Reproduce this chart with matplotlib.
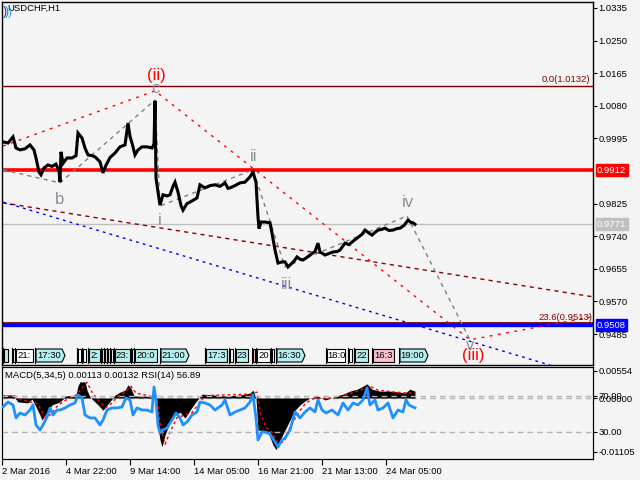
import matplotlib
matplotlib.use("Agg")
import matplotlib.pyplot as plt
from matplotlib.transforms import blended_transform_factory
from matplotlib.patches import Polygon

plt.rcParams['font.family'] = ['Liberation Sans', 'DejaVu Sans']

# ---------------- data ----------------
bar_x = [3, 8, 13, 16, 20, 25, 30, 34, 36, 39, 41, 44, 48, 52, 56, 59, 60, 61, 63, 67, 72, 76, 78,
         82, 85, 88, 92, 95, 100, 103, 106, 110, 115, 120, 125, 128, 130, 132, 135, 138, 142, 147,
         152, 154, 155, 156, 158, 160, 163, 167, 170, 173, 175, 178, 181, 183, 187, 190, 194, 197,
         200, 205, 210, 215, 220, 225, 228, 230, 235, 240, 245, 250, 253, 256, 258, 259, 261, 265,
         270, 272, 275, 278, 282, 285, 288, 290, 294, 297, 300, 303, 307, 310, 315, 318, 320, 325,
         329, 333, 337, 340, 345, 349, 352, 357, 362, 365, 369, 372, 375, 378, 382, 385, 389, 393,
         397, 400, 404, 408, 411, 413, 415]
close = [0.9986, 0.9983, 0.9999, 0.9970, 0.9965, 0.9968, 0.9978, 0.9965, 0.9944, 0.9907, 0.9900,
         0.9918, 0.9926, 0.9922, 0.9928, 0.9910, 0.9881, 0.9960, 0.9930, 0.9944, 0.9944, 0.9950,
         1.0009, 0.9996, 0.9970, 0.9952, 0.9950, 0.9947, 0.9934, 0.9905, 0.9925, 0.9945, 0.9957,
         0.9973, 0.9978, 1.0035, 1.0000, 0.9983, 0.9952, 0.9965, 0.9973, 0.9973, 0.9970, 0.9980,
         1.0093, 0.9892, 0.9855, 0.9821, 0.9848, 0.9845, 0.9848, 0.9870, 0.9881, 0.9855, 0.9820,
         0.9808, 0.9825, 0.9829, 0.9835, 0.9840, 0.9874, 0.9866, 0.9872, 0.9874, 0.9870, 0.9879,
         0.9865, 0.9866, 0.9872, 0.9879, 0.9881, 0.9895, 0.9907, 0.9881, 0.9790, 0.9760, 0.9777,
         0.9777, 0.9775, 0.9748, 0.9704, 0.9670, 0.9673, 0.9673, 0.9660, 0.9665, 0.9675, 0.9686,
         0.9680, 0.9678, 0.9685, 0.9691, 0.9700, 0.9722, 0.9699, 0.9691, 0.9695, 0.9699, 0.9700,
         0.9704, 0.9722, 0.9718, 0.9725, 0.9735, 0.9745, 0.9756, 0.9748, 0.9743, 0.9750, 0.9756,
         0.9758, 0.9761, 0.9755, 0.9756, 0.9760, 0.9761, 0.9768, 0.9782, 0.9776, 0.9775, 0.9771]

hist_x = [3, 14, 15, 18, 28, 32, 35, 40, 42, 47, 52, 60, 63, 65, 76, 78, 80, 85, 87, 90, 93, 98,
          103, 108, 112, 115, 120, 125, 128, 131, 134, 145, 152, 155, 157, 160, 162, 165, 170, 175,
          180, 185, 190, 195, 199, 202, 215, 225, 240, 250, 253, 256, 258, 263, 268, 273, 276, 280,
          285, 290, 295, 300, 305, 310, 318, 325, 335, 343, 350, 357, 362, 367, 372, 380, 390, 400,
          405, 410, 415]
macd_hist = [0.0006, 0.0006, 0.0, -0.0008, -0.0010, -0.0002, -0.0014, -0.0035, -0.0045, -0.0029,
             -0.0014, -0.0008, -0.0002, 0.0004, 0.0006, 0.0025, 0.0033, 0.0033, 0.0016, 0.0002,
             -0.0004, -0.0014, -0.0025, -0.0012, -0.0002, 0.0006, 0.0012, 0.0016, 0.0027, 0.0020,
             0.0004, 0.0004, 0.0002, 0.0, -0.0045, -0.0086, -0.0100, -0.0076, -0.0049, -0.0035,
             -0.0029, -0.0041, -0.0025, -0.0010, 0.0, 0.0008, 0.0006, 0.0004, 0.0006, 0.0010,
             0.0016, 0.0, -0.0066, -0.0066, -0.0070, -0.0096, -0.0106, -0.0086, -0.0066, -0.0045,
             -0.0025, -0.0014, -0.0006, 0.0, 0.0004, -0.0004, 0.0002, 0.0008, 0.0014, 0.0018,
             0.0023, 0.0029, 0.0018, 0.0014, 0.0014, 0.0012, 0.0010, 0.0018, 0.0014]

sig_x = [3, 15, 20, 30, 38, 45, 50, 58, 66, 75, 82, 87, 92, 98, 106, 112, 118, 125, 131, 136, 150,
         157, 160, 165, 170, 177, 185, 192, 200, 206, 250, 257, 260, 266, 272, 278, 284, 290, 297,
         305, 312, 330, 345, 360, 370, 378, 395, 410, 415]
macd_signal = [0.0004, 0.0004, -0.0002, -0.0008, -0.0012, -0.0040, -0.0035, -0.0015, -0.0004,
               0.0004, 0.0020, 0.0032, 0.0012, -0.0004, -0.0020, -0.0010, 0.0004, 0.0012, 0.0024,
               0.0010, 0.0004, 0.0000, -0.0050, -0.0095, -0.0070, -0.0040, -0.0035, -0.0030,
               -0.0008, 0.0005, 0.0008, 0.0012, -0.0030, -0.0060, -0.0070, -0.0092, -0.0090,
               -0.0060, -0.0035, -0.0012, -0.0002, 0.0000, 0.0006, 0.0016, 0.0024, 0.0016, 0.0012,
               0.0010, 0.0013]

rsi_x = [3, 8, 13, 16, 20, 25, 30, 33, 36, 40, 43, 47, 50, 53, 57, 60, 65, 70, 75, 78, 82, 85, 90,
         95, 100, 103, 107, 112, 117, 122, 126, 130, 133, 137, 142, 147, 152, 154, 156, 158, 160,
         163, 167, 172, 176, 180, 183, 187, 192, 197, 200, 205, 210, 215, 222, 225, 230, 235, 240,
         245, 250, 253, 256, 258, 262, 265, 270, 275, 278, 282, 285, 290, 295, 300, 305, 310, 315,
         318, 322, 326, 332, 338, 343, 348, 353, 358, 363, 367, 370, 375, 378, 383, 388, 393, 398,
         403, 406, 409, 413, 415]
rsi = [57.8, 63.3, 60.0, 45.6, 51.1, 48.9, 54.4, 60.0, 37.8, 32.2, 37.8, 46.7, 56.7, 48.9, 54.4,
       54.4, 56.7, 60.0, 62.2, 71.1, 67.8, 48.9, 45.6, 45.6, 37.8, 43.3, 54.4, 56.7, 56.7, 57.8,
       67.8, 65.6, 48.9, 56.7, 54.4, 54.4, 52.2, 80.0, 65.6, 37.8, 28.9, 32.2, 34.4, 43.3, 51.1,
       45.6, 37.8, 41.1, 48.9, 52.2, 63.3, 62.2, 60.0, 54.4, 60.0, 65.6, 48.9, 52.2, 54.4, 56.7,
       63.3, 71.1, 45.6, 21.1, 30.0, 30.0, 27.8, 18.9, 13.3, 21.1, 23.3, 32.2, 52.2, 45.6, 52.2,
       56.7, 52.2, 65.6, 54.4, 51.1, 54.4, 48.9, 62.2, 54.4, 62.2, 60.0, 65.6, 78.9, 60.0, 65.6,
       54.4, 56.7, 62.2, 45.6, 54.4, 52.2, 65.6, 60.0, 57.8, 56.9]

# wave markup (bar, price)
wave_x = [3, 60, 155, 160, 253, 285, 407, 470]
wave_p = [0.9913, 0.9879, 1.0095, 0.9819, 0.9913, 0.9660, 0.9793, 0.9470]
red_x = [3, 155, 470, 590]
red_p = [0.9975, 1.0119, 0.9470, 0.9529]
chan_x = [3, 593]
chan_p = [0.9827, 0.9582]
blue_x = [3, 550]
blue_p = [0.9829, 0.9404]

fib0, fib236 = 1.0132, 0.9513
level_red, level_cur, level_blue = 0.9912, 0.9771, 0.9508

labels_txt = ["b", "c", "i", "ii", "iii", "iv", "v"]
labels_x = [60, 155, 160, 254, 287, 408, 470]
labels_p = [0.9837, 1.0126, 0.9780, 0.9949, 0.9615, 0.9827, 0.9454]
big_txt = ["(ii)", "(iii)"]
big_x = [156, 473]
big_p = [1.0158, 0.9428]

price_ticks = [1.0335, 1.0250, 1.0165, 1.0080, 0.9995, 0.9825, 0.9740, 0.9655, 0.9570, 0.9485]
date_pos = [2, 66, 130, 194, 258, 322, 386]
date_labels = ["2 Mar 2016", "4 Mar 22:00", "9 Mar 14:00", "14 Mar 05:00", "16 Mar 21:00",
               "21 Mar 13:00", "24 Mar 05:00"]

# time boxes (start bar, end bar, text, colour key, arrow)
box_x0 = [4, 13, 16, 36, 78, 83, 89, 102, 105, 108, 111, 115, 132, 135, 161, 206, 230, 236, 253,
          257, 272, 277, 327, 349, 355, 373, 400]
box_x1 = [8, 15, 33, 62, 81, 86, 100, 104, 107, 110, 113, 130, 134, 157, 186, 227, 233, 248, 255,
          270, 274, 302, 345, 352, 368, 394, 425]
box_txt = ["", "", "21:", "17:30", "", "", "2:", "", "", "", "", "23:", "", "20:0", "21:00",
           "17:3", "", "23", "", "20", "", "16:30", "18:0", "", "22", "16:3", "19:00"]
box_col = ["c", "w", "w", "c", "w", "w", "c", "w", "w", "w", "w", "c", "w", "c", "c",
           "c", "w", "c", "p", "w", "w", "c", "w", "w", "c", "p", "c"]
box_arrow = [0, 0, 0, 1, 0, 0, 0, 0, 0, 0, 0, 0, 0, 0, 1, 0, 0, 0, 0, 0, 0, 1, 0, 0, 0, 0, 1]

# ---------------- figure ----------------
BG = '#f4f4f4'
fig = plt.figure(figsize=(6.4, 4.8), dpi=100, facecolor=BG)
ax = fig.add_axes([2/640, 1-365/480, 591/640, 363/480], facecolor=BG)
axm = fig.add_axes([2/640, 1-459/480, 591/640, 92/480], facecolor=BG)
axr = axm.twinx()

FS = 6.8
ax.set_xlim(2, 593)
ax.set_ylim(0.94043, 1.03506)
ax.set_xticks([])
ax.yaxis.tick_right()
ax.set_yticks(price_ticks)
ax.set_yticklabels([f"{v:.4f}" for v in price_ticks], fontsize=FS)
ax.tick_params(axis='y', length=3, pad=1, width=0.8)
for s in ax.spines.values():
    s.set_linewidth(1)

# horizontal levels
ax.axhline(fib0, color='#800000', lw=1, zorder=2)
ax.axhline(level_red, color='red', lw=2.6, zorder=2)
ax.axhline(level_cur, color='#c0c0c0', lw=1, zorder=1)
ax.axhline(fib236, color='#800000', lw=2, zorder=2)
ax.axhline(level_blue, color='#0000ff', lw=2.4, zorder=2)

# channel / trend lines
ax.plot(chan_x, chan_p, color='#8b0000', lw=1, ls=(0, (3, 3)), zorder=3)
ax.plot(blue_x, blue_p, color='#0000ff', lw=1, ls=(0, (2, 3)), zorder=3)
ax.plot(red_x, red_p, color='#ff0000', lw=1, ls=(0, (2, 4)), zorder=3)
ax.plot(wave_x, wave_p, color='#808080', lw=1, ls=(0, (3, 3)), zorder=3)

# price
ax.plot(bar_x, close, color='black', lw=2.2, zorder=4, solid_joinstyle='miter')

# labels
trans_r = blended_transform_factory(ax.transAxes, ax.transData)
ax.text(590, fib0 + 0.0004, "0.0(1.0132)", color='#800000', fontsize=FS, ha='right', va='bottom')
ax.text(592, fib236 + 0.0004, "23.6(0.9513)", color='#800000', fontsize=FS, ha='right', va='bottom')
for t, x, p in zip(labels_txt, labels_x, labels_p):
    ax.text(x, p, t, color='#8a8f99', fontsize=12, ha='center', va='center', zorder=5)
for t, x, p in zip(big_txt, big_x, big_p):
    ax.text(x, p, t, color='#ff0000', fontsize=12, ha='center', va='center', zorder=6)

for lvl, col in [(level_red, '#ff0000'), (level_cur, '#c0c0c0'), (level_blue, '#0000ff')]:
    ax.text(1.0068, lvl, f"{lvl:.4f}", transform=trans_r, color='white', fontsize=FS,
            ha='left', va='center', clip_on=False, zorder=10,
            bbox=dict(boxstyle='square,pad=0.15', fc=col, ec=col))

ax.text(7, 1.0335, "USDCHF,H1", fontsize=FS, color='black', ha='left', va='center')
ax.text(3, 1.0325, ")", fontsize=9, color='#1a3cff', ha='left', va='center')
ax.text(5, 1.0325, ")", fontsize=9, color='#1faa3c', ha='left', va='center')
ax.text(8, 1.0325, ")", fontsize=9, color='#3399ff', ha='left', va='center')

# time boxes row
trans_b = blended_transform_factory(ax.transData, ax.transAxes)
colmap = {'c': '#b4f0f0', 'w': '#ffffff', 'p': '#ffc0cb'}
yb, yt = (365 - 362) / 363, (365 - 349) / 363
for x0, x1, t, c, a in zip(box_x0, box_x1, box_txt, box_col, box_arrow):
    if a:
        pts = [(x0, yb), (x1, yb), (x1 + 3, (yb + yt) / 2), (x1, yt), (x0, yt)]
    else:
        pts = [(x0, yb), (x1, yb), (x1, yt), (x0, yt)]
    ax.add_patch(Polygon(pts, closed=True, transform=trans_b, fc=colmap[c], ec='black',
                         lw=0.8, zorder=7))
    ax.plot([x0 - 1.5, x0 - 1.5], [yb - 0.004, yt + 0.004], transform=trans_b, color='black',
            lw=0.8, zorder=7)
    if t:
        ax.text((x0 + x1) / 2, (yb + yt) / 2, t, transform=trans_b, fontsize=FS, ha='center',
                va='center', zorder=8)

# ---------------- indicator ----------------
axm.set_xlim(2, 593)
axm.set_ylim(-0.01249, 0.00635)
axr.set_ylim(0, 102.2)
axm.yaxis.tick_right()
mt = [0.00554, 0.0, -0.01105]
axm.set_yticks(mt)
axm.set_yticklabels(["0.00554", "0.00000", "-0.01105"], fontsize=FS)
axr.set_yticks([70, 30])
axr.set_yticklabels(["70.00", "30.00"], fontsize=FS)
for a_ in (axm, axr):
    a_.tick_params(axis='y', length=3, pad=1, width=0.8)
axm.set_xticks(date_pos)
axm.set_xticklabels(date_labels, fontsize=FS, ha='left')
axm.tick_params(axis='x', length=4, pad=2, width=0.8)

axm.axhline(0, color='#b4b4b4', lw=1, ls=(0, (4, 3)), zorder=1)
axr.axhline(70, color='#b4b4b4', lw=1, ls=(0, (4, 3)), zorder=1)
axr.axhline(30, color='#b4b4b4', lw=1, ls=(0, (4, 3)), zorder=1)

axm.fill_between(hist_x, 0, macd_hist, color='black', lw=0, zorder=2)
axm.plot(sig_x, macd_signal, color='red', lw=1, ls=(0, (2, 2)), zorder=3)
axr.plot(rsi_x, rsi, color='#1e90ff', lw=2, zorder=4)

axm.text(5, 0.0047, "MACD(5,34,5) 0.00113 0.00132 RSI(14) 56.89", fontsize=FS, ha='left',
         va='center', color='black')

fig.savefig("out.png", dpi=100, facecolor=BG)
